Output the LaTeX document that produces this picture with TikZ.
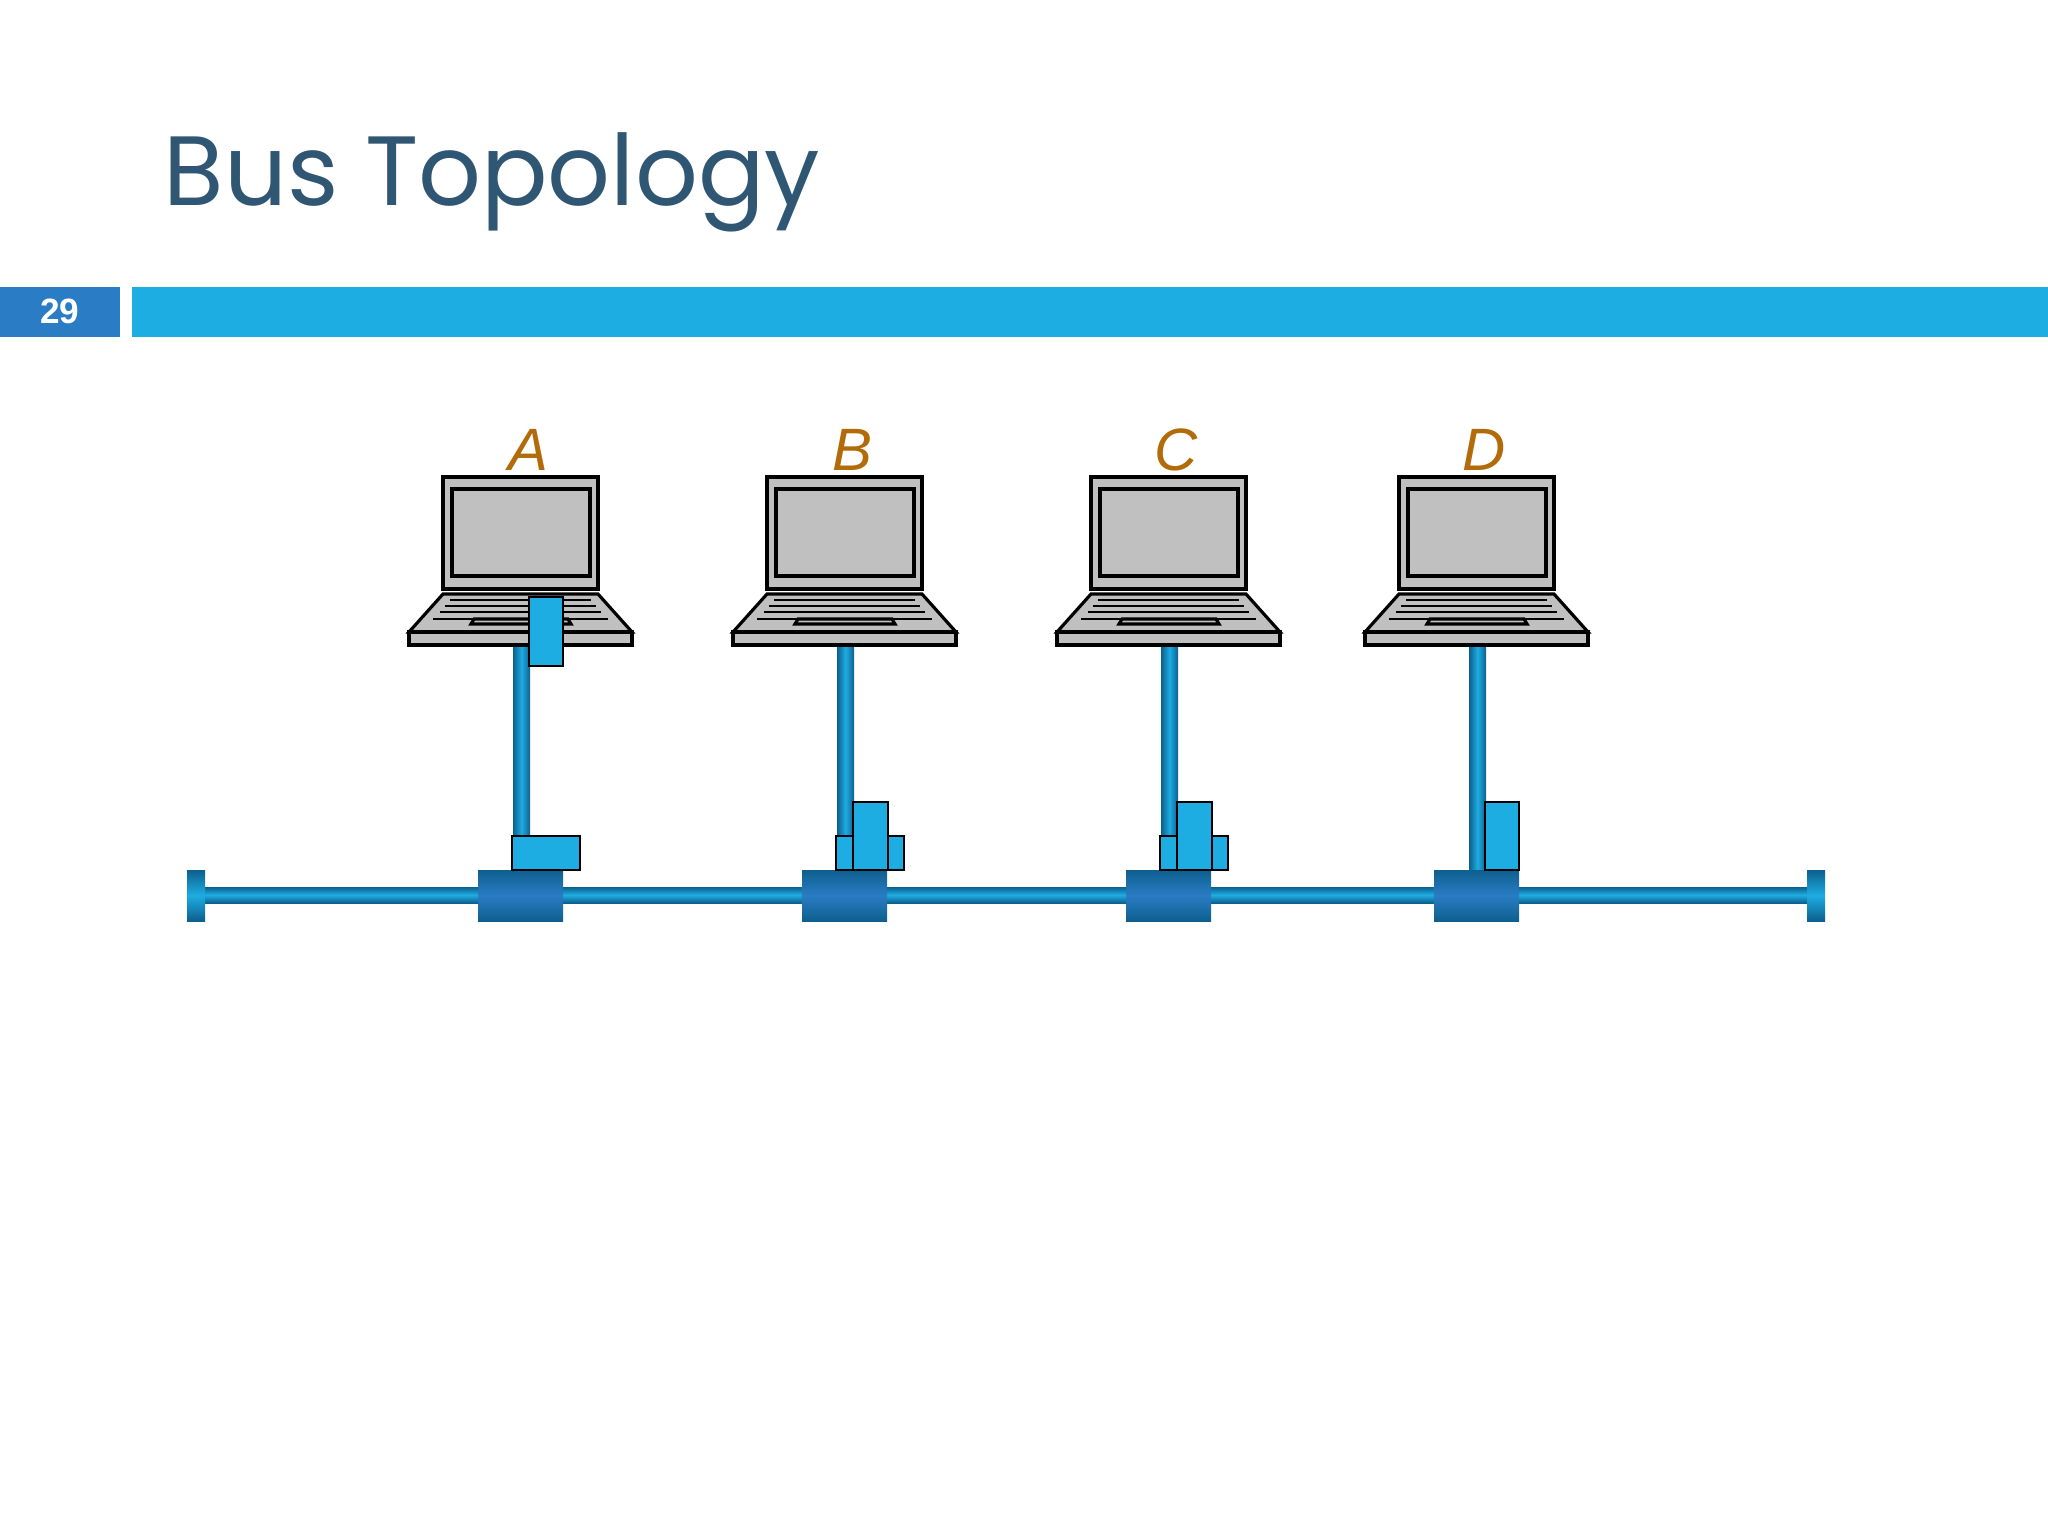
\documentclass[tikz,border=0pt]{standalone}
\usepackage{fontspec}
\setmainfont{Poppins}
\newfontfamily\labfont{Liberation Sans}
\definecolor{titlec}{HTML}{2F5673}
\definecolor{barc}{HTML}{1EADE2}
\definecolor{numc}{HTML}{2A7CC4}
\definecolor{labc}{HTML}{B36B0A}
\definecolor{lg}{HTML}{C0C0C0}
\definecolor{pipe}{HTML}{1EADE2}
\definecolor{piped}{HTML}{0D5F8E}
\definecolor{conn}{HTML}{1EADE2}
\tikzset{
 lapstyle/.style={draw=black,fill=lg,line width=0.9pt},
 connbox/.style={draw=black,fill=conn,line width=0.8pt},
 vpipe/.style={left color=piped,right color=piped,middle color=pipe},
 hpipe/.style={top color=piped,bottom color=piped,middle color=pipe},
 tap/.style={top color=piped,bottom color=piped,middle color=numc},
}
\newcommand\drawlaptop[2]{%
 \begin{scope}[shift={(#1,0)}]
  \fill[vpipe] (69,645) rectangle (86,890);
  \draw[lapstyle] (-1,477) rectangle (154,589);
  \draw[lapstyle] (8,489) rectangle (146,576);
  \draw[lapstyle] (-1,594) -- (154,594) -- (188,632) -- (-35,632) -- cycle;
  \draw[lapstyle] (-35,632) rectangle (188,645);
  \draw[line width=0.8pt] (6,600)--(147,600) (1,606)--(152,606) (-4,612)--(157,612) (-11,619)--(164,619);
  \draw[lapstyle] (30,619) -- (124,619) -- (127,624) -- (27,624) -- cycle;
  \fill[tap] (34,870) rectangle (119,921);
  \node[font=\labfont\itshape,text=labc,scale=1.7,anchor=base] at (84,470) {#2};
 \end{scope}}
\begin{document}
\begin{tikzpicture}[x=0.01cm,y=-0.01cm]
\useasboundingbox (0,0) rectangle (2048,1536);
\node[anchor=base west,text=titlec,scale=2.8,inner sep=0] (title) at (162,205) {Bus Topology};
\fill[numc] (0,287) rectangle (120,337);
\node[text=white,font=\labfont\bfseries,scale=1.0] (num) at (60,311) {29};
\fill[barc] (132,287) rectangle (2048,337);
% bus
\fill[hpipe] (200,887) rectangle (1815,903);
\fill[hpipe] (187,870) rectangle (205,921);
\fill[hpipe] (1807,870) rectangle (1825,921);
\drawlaptop{444}{A}
\drawlaptop{768}{B}
\drawlaptop{1092}{C}
\drawlaptop{1400}{D}
% connectors
\draw[connbox] (529,597) rectangle (563,666);
\draw[connbox] (512,836) rectangle (580,870);
\foreach \x in {768,1092}{
 \draw[connbox] (\x+68,836) rectangle (\x+136,870);
 \draw[connbox] (\x+85,802) rectangle (\x+120,870);
}
\draw[connbox] (1485,802) rectangle (1519,870);
\end{tikzpicture}
\end{document}
